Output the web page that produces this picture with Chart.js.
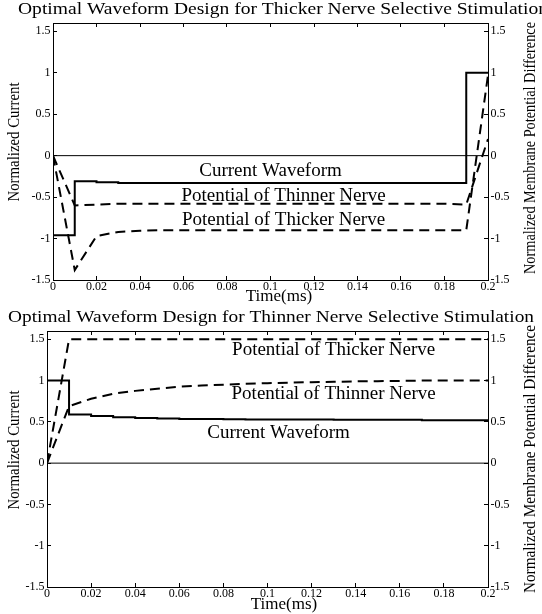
<!DOCTYPE html>
<html>
<head>
<meta charset="utf-8">
<script src="https://cdn.jsdelivr.net/npm/chart.js@4.4.0/dist/chart.umd.min.js"></script>
<style>
  body { margin: 0; background: #fff; }
  .box { position: absolute; left: 0; width: 542px; height: 307px; }
</style>
</head>
<body>
<div class="box" style="top:0"><canvas id="thick"></canvas></div>
<div class="box" style="top:307px"><canvas id="thin"></canvas></div>
<script>
// sample times (ms), one value per 0.01 ms
const timeMs = [0, 0.01, 0.02, 0.03, 0.04, 0.05, 0.06, 0.07, 0.08, 0.09, 0.1,
  0.11, 0.12, 0.13, 0.14, 0.15, 0.16, 0.17, 0.18, 0.19, 0.2];

// upper plot: thicker nerve selective stimulation
const thickCurrent = [-0.96, -0.31, -0.32, -0.33, -0.33, -0.33, -0.33, -0.33, -0.33, -0.33, -0.33,
  -0.33, -0.33, -0.33, -0.33, -0.33, -0.33, -0.33, -0.33, 1.0, 1.0];
const thickThinner = [0, -0.6, -0.59, -0.58, -0.58, -0.58, -0.58, -0.58, -0.58, -0.58, -0.58,
  -0.58, -0.58, -0.58, -0.58, -0.58, -0.58, -0.58, -0.58, -0.59, 0.2];
const thickThicker = [0, -1.38, -0.97, -0.92, -0.905, -0.9, -0.9, -0.9, -0.9, -0.9, -0.9,
  -0.9, -0.9, -0.9, -0.9, -0.9, -0.9, -0.9, -0.9, -0.9, 0.97];

// lower plot: thinner nerve selective stimulation
const thinCurrent = [1.0, 0.59, 0.57, 0.555, 0.545, 0.54, 0.535, 0.533, 0.53, 0.528, 0.528,
  0.528, 0.528, 0.525, 0.525, 0.525, 0.525, 0.52, 0.52, 0.52, 0.52];
const thinThinner = [0, 0.69, 0.78, 0.84, 0.875, 0.9, 0.925, 0.94, 0.95, 0.96, 0.968,
  0.975, 0.98, 0.985, 0.99, 0.993, 0.996, 1.0, 1.0, 1.0, 1.0];
const thinThicker = [0, 1.5, 1.5, 1.5, 1.5, 1.5, 1.5, 1.5, 1.5, 1.5, 1.5,
  1.5, 1.5, 1.5, 1.5, 1.5, 1.5, 1.5, 1.5, 1.5, 1.5];

const zeroX = [0, 0.2];
const zeroY = [0, 0];

const xTicks = [0, 0.02, 0.04, 0.06, 0.08, 0.1, 0.12, 0.14, 0.16, 0.18, 0.2];
const yTicks = [-1.5, -1, -0.5, 0, 0.5, 1, 1.5];

// text labels written inside the axes
const notes = ['Current Waveform', 'Potential of Thinner Nerve', 'Potential of Thicker Nerve'];
const thickNoteX = [0.1, 0.106, 0.106];
const thickNoteY = [-0.18, -0.49, -0.78];
const thinNoteX = [0.105, 0.13, 0.13];
const thinNoteY = [0.37, 0.84, 1.37];

const SERIF = '"Liberation Serif", "Times New Roman", serif';

const pts = (ys) => timeMs.map((t, i) => ({ x: t, y: ys[i] }));

// text squeezed/stretched along its baseline to a given length
function fitText(ctx, str, x, y, len, rot) {
  const w = ctx.measureText(str).width;
  ctx.save();
  ctx.translate(x, y);
  if (rot) ctx.rotate(rot);
  ctx.scale(len / w, 1);
  ctx.fillText(str, 0, 0);
  ctx.restore();
}

// draws titles and in-plot labels like the MATLAB figure
const paperText = {
  id: 'paperText',
  afterDraw(chart, args, o) {
    const ctx = chart.ctx;
    ctx.save();
    ctx.fillStyle = '#000';
    ctx.textAlign = 'center';
    ctx.textBaseline = 'middle';

    ctx.font = '17px ' + SERIF;
    fitText(ctx, o.title, o.titleX, o.titleY, o.titleWidth, 0);

    ctx.font = '19px ' + SERIF;
    const xs = chart.scales.x, ys = chart.scales.y;
    notes.forEach((t, i) => {
      ctx.fillText(t, xs.getPixelForValue(o.noteX[i]), ys.getPixelForValue(o.noteY[i]));
    });

    ctx.font = '17px ' + SERIF;
    ctx.fillText('Time(ms)', o.xTitle[0], o.xTitle[1]);

    ctx.font = '17px ' + SERIF;
    fitText(ctx, 'Normalized Current', o.yTitle[0], o.yTitle[1], o.yTitle[2], -Math.PI / 2);
    fitText(ctx, 'Normalized Membrane Potential Difference', o.y2Title[0], o.y2Title[1], o.y2Title[2], -Math.PI / 2);
    ctx.restore();
  }
};

function axisGrid() {
  return { drawOnChartArea: false, drawTicks: true, tickLength: -4, color: '#000', tickColor: '#000', lineWidth: 1 };
}

function makeChart(id, current, thinner, thicker, lay, text) {
  const tickFont = { family: SERIF, size: 12 };
  const setX = (s) => { s.ticks = xTicks.map(v => ({ value: v })); };
  const setY = (s) => { s.ticks = yTicks.map(v => ({ value: v })); };
  new Chart(document.getElementById(id), {
    type: 'line',
    data: {
      datasets: [
        { data: pts(current), borderColor: '#000', borderWidth: 2, stepped: true },
        { data: pts(thinner), borderColor: '#000', borderWidth: 2, borderDash: [10, 6] },
        { data: pts(thicker), borderColor: '#000', borderWidth: 2, borderDash: [10, 6] },
        { data: zeroX.map((x, i) => ({ x: x, y: zeroY[i] })), borderColor: '#000', borderWidth: 1 }
      ]
    },
    options: {
      responsive: true,
      maintainAspectRatio: false,
      animation: false,
      layout: { padding: { top: lay.top, left: 0, right: 0, bottom: 0 } },
      elements: { point: { radius: 0 }, line: { tension: 0 } },
      plugins: { legend: { display: false }, tooltip: { enabled: false }, paperText: text },
      scales: {
        x: {
          type: 'linear', position: 'bottom', min: 0, max: 0.2,
          afterBuildTicks: setX,
          afterFit: (s) => { s.height = lay.bottom; },
          grid: axisGrid(),
          border: { color: '#000', width: 1 },
          ticks: { font: tickFont, color: '#000', padding: 4, autoSkip: false, maxRotation: 0,
            callback: (v) => String(v) }
        },
        x2: {
          type: 'linear', position: 'top', min: 0, max: 0.2,
          afterBuildTicks: setX,
          afterFit: (s) => { s.height = 0; },
          grid: axisGrid(),
          border: { color: '#000', width: 1 },
          ticks: { display: false }
        },
        y: {
          type: 'linear', position: 'left', min: -1.5, max: 1.6,
          afterBuildTicks: setY,
          afterFit: (s) => { s.width = lay.left; },
          grid: axisGrid(),
          border: { color: '#000', width: 1 },
          ticks: { font: tickFont, color: '#000', padding: 6.5, callback: (v) => String(v) }
        },
        y2: {
          type: 'linear', position: 'right', min: -1.5, max: 1.6,
          afterBuildTicks: setY,
          afterFit: (s) => { s.width = lay.right; },
          grid: axisGrid(),
          border: { color: '#000', width: 1 },
          ticks: { font: tickFont, color: '#000', padding: 6.5, callback: (v) => String(v) }
        }
      }
    },
    plugins: [paperText]
  });
}

makeChart('thick', thickCurrent, thickThinner, thickThicker,
  { top: 23, bottom: 27, left: 53, right: 54 },
  { title: 'Optimal Waveform Design for Thicker Nerve Selective Stimulation',
    titleX: 283, titleY: 10, titleWidth: 530,
    noteX: thickNoteX, noteY: thickNoteY,
    xTitle: [279, 297], yTitle: [15, 142, 119], y2Title: [531, 148, 252] });

makeChart('thin', thinCurrent, thinThinner, thinThicker,
  { top: 24, bottom: 27, left: 47, right: 54 },
  { title: 'Optimal Waveform Design for Thinner Nerve Selective Stimulation',
    titleX: 271, titleY: 11, titleWidth: 526,
    noteX: thinNoteX, noteY: thinNoteY,
    xTitle: [284, 298], yTitle: [15, 143, 119], y2Title: [531, 152, 268] });
</script>
</body>
</html>
